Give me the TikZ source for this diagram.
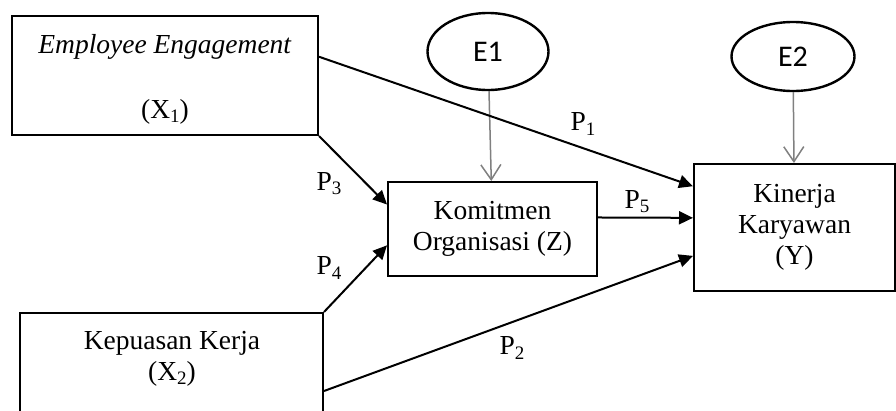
\documentclass[tikz,border=0pt]{standalone}
\usepackage{fontspec}
\setmainfont{Liberation Serif}
\newfontfamily\calibrifont{Carlito}
\usetikzlibrary{arrows.meta,calc,shapes.geometric}
\newcommand\mysub[1]{\raisebox{-0.15em}{\fontsize{19}{19}\selectfont #1}}
\begin{document}
\begin{tikzpicture}[x=1pt,y=-1pt,
  box/.style={draw,line width=2pt,rectangle,inner sep=0pt},
  errnode/.style={draw,line width=2.4pt,ellipse,inner sep=0pt,font=\calibrifont\fontsize{30}{34}\selectfont},
  txt/.style={font=\fontsize{27.5}{31}\selectfont,align=center,inner sep=0pt},
  lbl/.style={font=\fontsize{27.5}{31}\selectfont,inner sep=0pt},
  pth/.style={line width=2pt,-{Triangle[length=14pt,width=13pt]}},
  errarrow/.style={draw=black!50,line width=1.5pt,-{Straight Barb[length=15pt,width=20pt,line width=1.5pt]}}]
\useasboundingbox (0,0) rectangle (896,410);

% boxes
\node[box,minimum width=306pt,minimum height=119pt] (x1) at (165,75.5) {};
\node[txt,anchor=base] (x1a) at (165,53) {\textit{Employee Engagement}};
\node[txt,anchor=base] (x1b) at (165,118) {(X\mysub{1})};

\node[box,minimum width=303pt,minimum height=107pt] (x2) at (171.5,366.5) {};
\node[txt] (x2t) at (172,359) {Kepuasan Kerja\\(X\mysub{2})};

\node[box,txt,minimum width=209pt,minimum height=94pt] (z) at (492.5,229) {Komitmen\\Organisasi (Z)};
\node[box,txt,minimum width=201pt,minimum height=127pt] (y) at (794.5,227.5) {Kinerja\\Karyawan\\(Y)};

% error terms
\node[errnode,minimum width=121pt,minimum height=77pt] (e1) at (488,51.5) {E1};
\node[errnode,minimum width=123pt,minimum height=69pt] (e2) at (793,56.5) {E2};

% connectors
\draw[errarrow] (e1) -- (z);
\draw[errarrow] (e2) -- (y);

\draw[pth] ($(x1.north east)!0.345!(x1.south east)$) -- ($(y.north west)!0.18!(y.south west)$);
\draw[pth] (x1.south east) -- ($(z.north west)!0.245!(z.south west)$);
\draw[pth] (x2.north east) -- ($(z.north west)!0.67!(z.south west)$);
\draw[pth] ($(x2.north east)+(0,79)$) -- ($(y.north west)!0.72!(y.south west)$);
\draw[pth] ($(z.north east)!0.38!(z.south east)$) -- ($(y.north west)!0.425!(y.south west)$);

% labels
\node[lbl] (p1) at (583,124) {P\mysub{1}};
\node[lbl] (p3) at (329,184) {P\mysub{3}};
\node[lbl] (p4) at (329,268) {P\mysub{4}};
\node[lbl] (p5) at (637,202) {P\mysub{5}};
\node[lbl] (p2) at (512,348) {P\mysub{2}};
\end{tikzpicture}
\end{document}
